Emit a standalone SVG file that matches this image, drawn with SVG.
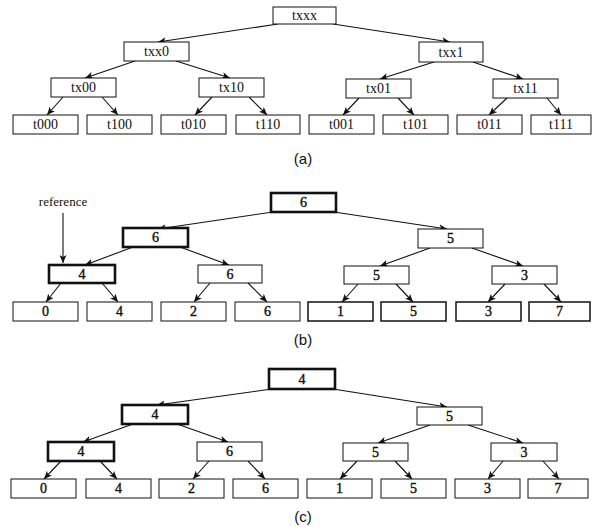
<svg xmlns="http://www.w3.org/2000/svg" width="592" height="527" viewBox="0 0 592 527">
<style>
.n{fill:#fff;stroke:#111;stroke-width:1}
.k{fill:#fff;stroke:#111;stroke-width:2.6}
.m{fill:#fff;stroke:#111;stroke-width:1.5}
.t{font-family:"Liberation Serif",serif;font-size:14px;fill:#111;text-anchor:middle}
.b{stroke:#111;stroke-width:0.4}
.c{font-family:"Liberation Sans",sans-serif;font-size:15px;fill:#111;text-anchor:middle}
.e{stroke:#111;stroke-width:1.1;fill:none;marker-end:url(#a)}
</style>
<defs>
<marker id="a" markerUnits="userSpaceOnUse" markerWidth="9" markerHeight="7" refX="8" refY="3.5" orient="auto">
<path d="M0,0 L8,3.5 L0,7 L2,3.5 z" fill="#111"/>
</marker>
</defs>
<g id="connectors">
<!-- (a) -->
<line class="e" x1="278" y1="24" x2="158" y2="42"/>
<line class="e" x1="333" y1="24" x2="450" y2="42"/>
<line class="e" x1="135" y1="61" x2="85" y2="78"/>
<line class="e" x1="176" y1="61" x2="230" y2="78"/>
<line class="e" x1="434" y1="62" x2="380" y2="79"/>
<line class="e" x1="473" y1="62" x2="523" y2="79"/>
<line class="e" x1="63" y1="97" x2="47" y2="115"/>
<line class="e" x1="102" y1="97" x2="118" y2="115"/>
<line class="e" x1="212" y1="97" x2="195" y2="115"/>
<line class="e" x1="249" y1="97" x2="267" y2="115"/>
<line class="e" x1="359" y1="98" x2="343" y2="115"/>
<line class="e" x1="398" y1="98" x2="414" y2="115"/>
<line class="e" x1="507" y1="98" x2="489" y2="115"/>
<line class="e" x1="547" y1="98" x2="561" y2="115"/>
<!-- (b) -->
<line class="e" x1="63" y1="213" x2="63" y2="263"/>
<line class="e" x1="273" y1="212" x2="158" y2="229"/>
<line class="e" x1="334" y1="212" x2="447" y2="229"/>
<line class="e" x1="133" y1="247" x2="85" y2="265"/>
<line class="e" x1="180" y1="247" x2="229" y2="265"/>
<line class="e" x1="430" y1="248" x2="380" y2="266"/>
<line class="e" x1="472" y1="248" x2="523" y2="266"/>
<line class="e" x1="61" y1="283" x2="46" y2="302"/>
<line class="e" x1="102" y1="283" x2="118" y2="302"/>
<line class="e" x1="210" y1="283" x2="194" y2="302"/>
<line class="e" x1="248" y1="283" x2="267" y2="302"/>
<line class="e" x1="358" y1="284" x2="342" y2="302"/>
<line class="e" x1="396" y1="284" x2="413" y2="302"/>
<line class="e" x1="505" y1="284" x2="488" y2="302"/>
<line class="e" x1="544" y1="284" x2="561" y2="302"/>
<!-- (c) -->
<line class="e" x1="272" y1="389" x2="157" y2="405"/>
<line class="e" x1="333" y1="389" x2="447" y2="407"/>
<line class="e" x1="133" y1="424" x2="83" y2="442"/>
<line class="e" x1="177" y1="424" x2="228" y2="442"/>
<line class="e" x1="430" y1="425" x2="378" y2="443"/>
<line class="e" x1="468" y1="425" x2="523" y2="443"/>
<line class="e" x1="61" y1="461" x2="44" y2="479"/>
<line class="e" x1="100" y1="461" x2="117" y2="479"/>
<line class="e" x1="209" y1="461" x2="193" y2="479"/>
<line class="e" x1="248" y1="461" x2="265" y2="479"/>
<line class="e" x1="357" y1="461" x2="340" y2="479"/>
<line class="e" x1="395" y1="461" x2="412" y2="479"/>
<line class="e" x1="503" y1="461" x2="488" y2="479"/>
<line class="e" x1="543" y1="461" x2="559" y2="479"/>
</g>
<!-- (a) nodes -->
<g id="a_txxx"><rect class="n" x="273" y="7" width="63" height="17"/><text class="t" x="304.5" y="20">txxx</text></g>
<g id="a_txx0"><rect class="n" x="124" y="42" width="65" height="19"/><text class="t" x="156.5" y="56">txx0</text></g>
<g id="a_txx1"><rect class="n" x="419" y="42" width="64" height="20"/><text class="t" x="451" y="57">txx1</text></g>
<g id="a_tx00"><rect class="n" x="51" y="78" width="65" height="19"/><text class="t" x="83.5" y="92">tx00</text></g>
<g id="a_tx10"><rect class="n" x="199" y="78" width="65" height="19"/><text class="t" x="231.5" y="92">tx10</text></g>
<g id="a_tx01"><rect class="n" x="346" y="79" width="65" height="19"/><text class="t" x="378.5" y="93">tx01</text></g>
<g id="a_tx11"><rect class="n" x="493" y="79" width="65" height="19"/><text class="t" x="525.5" y="93">tx11</text></g>
<g id="a_t000"><rect class="n" x="13" y="115" width="65" height="19"/><text class="t" x="45.5" y="129">t000</text></g>
<g id="a_t100"><rect class="n" x="87" y="115" width="65" height="19"/><text class="t" x="119.5" y="129">t100</text></g>
<g id="a_t010"><rect class="n" x="161" y="115" width="65" height="19"/><text class="t" x="193.5" y="129">t010</text></g>
<g id="a_t110"><rect class="n" x="236" y="115" width="64" height="19"/><text class="t" x="268" y="129">t110</text></g>
<g id="a_t001"><rect class="n" x="309" y="115" width="65" height="19"/><text class="t" x="341.5" y="129">t001</text></g>
<g id="a_t101"><rect class="n" x="383" y="115" width="65" height="19"/><text class="t" x="415.5" y="129">t101</text></g>
<g id="a_t011"><rect class="n" x="457" y="115" width="65" height="19"/><text class="t" x="489.5" y="129">t011</text></g>
<g id="a_t111"><rect class="n" x="531" y="115" width="60" height="19"/><text class="t" x="561" y="129">t111</text></g>
<text class="c" x="303" y="164">(a)</text>
<!-- (b) nodes -->
<text class="t" x="63" y="206" style="font-size:13px">reference</text>
<g id="b_root"><rect class="k" x="271" y="193" width="65" height="19"/><text class="t b" x="303.5" y="207">6</text></g>
<g id="b_l1a"><rect class="k" x="123" y="228" width="65" height="19"/><text class="t b" x="155.5" y="242">6</text></g>
<g id="b_l1b"><rect class="n" x="418" y="229" width="65" height="19"/><text class="t b" x="450.5" y="243">5</text></g>
<g id="b_l2a"><rect class="k" x="49" y="265" width="66" height="18"/><text class="t b" x="82" y="279">4</text></g>
<g id="b_l2b"><rect class="n" x="198" y="265" width="64" height="18"/><text class="t b" x="230" y="279">6</text></g>
<g id="b_l2c"><rect class="n" x="344" y="266" width="65" height="18"/><text class="t b" x="376.5" y="280">5</text></g>
<g id="b_l2d"><rect class="n" x="492" y="266" width="65" height="18"/><text class="t b" x="524.5" y="280">3</text></g>
<g id="b_l3a"><rect class="n" x="13" y="302" width="65" height="19"/><text class="t b" x="45.5" y="316">0</text></g>
<g id="b_l3b"><rect class="n" x="87" y="302" width="65" height="19"/><text class="t b" x="119.5" y="316">4</text></g>
<g id="b_l3c"><rect class="n" x="161" y="302" width="65" height="19"/><text class="t b" x="193.5" y="316">2</text></g>
<g id="b_l3d"><rect class="n" x="235" y="302" width="65" height="19"/><text class="t b" x="267.5" y="316">6</text></g>
<g id="b_l3e"><rect class="m" x="308" y="302" width="65" height="19"/><text class="t b" x="340.5" y="316">1</text></g>
<g id="b_l3f"><rect class="m" x="381" y="302" width="65" height="19"/><text class="t b" x="413.5" y="316">5</text></g>
<g id="b_l3g"><rect class="m" x="456" y="302" width="65" height="19"/><text class="t b" x="488.5" y="316">3</text></g>
<g id="b_l3h"><rect class="m" x="529" y="302" width="61" height="19"/><text class="t b" x="559.5" y="316">7</text></g>
<text class="c" x="303" y="345">(b)</text>
<!-- (c) nodes -->
<g id="c_root"><rect class="k" x="269" y="369" width="66" height="20"/><text class="t b" x="302" y="384">4</text></g>
<g id="c_l1a"><rect class="k" x="122" y="405" width="66" height="19"/><text class="t b" x="155" y="419">4</text></g>
<g id="c_l1b"><rect class="n" x="417" y="407" width="65" height="18"/><text class="t b" x="449.5" y="421">5</text></g>
<g id="c_l2a"><rect class="k" x="48" y="442" width="66" height="19"/><text class="t b" x="81" y="456">4</text></g>
<g id="c_l2b"><rect class="n" x="197" y="442" width="65" height="19"/><text class="t b" x="229.5" y="456">6</text></g>
<g id="c_l2c"><rect class="n" x="343" y="443" width="65" height="18"/><text class="t b" x="375.5" y="457">5</text></g>
<g id="c_l2d"><rect class="n" x="491" y="443" width="66" height="18"/><text class="t b" x="524" y="457">3</text></g>
<g id="c_l3a"><rect class="n" x="11" y="479" width="65" height="19"/><text class="t b" x="43.5" y="493">0</text></g>
<g id="c_l3b"><rect class="n" x="86" y="479" width="65" height="19"/><text class="t b" x="118.5" y="493">4</text></g>
<g id="c_l3c"><rect class="n" x="159" y="479" width="65" height="19"/><text class="t b" x="191.5" y="493">2</text></g>
<g id="c_l3d"><rect class="n" x="233" y="479" width="65" height="19"/><text class="t b" x="265.5" y="493">6</text></g>
<g id="c_l3e"><rect class="n" x="307" y="479" width="65" height="19"/><text class="t b" x="339.5" y="493">1</text></g>
<g id="c_l3f"><rect class="n" x="381" y="479" width="65" height="19"/><text class="t b" x="413.5" y="493">5</text></g>
<g id="c_l3g"><rect class="n" x="455" y="479" width="65" height="19"/><text class="t b" x="487.5" y="493">3</text></g>
<g id="c_l3h"><rect class="n" x="528" y="479" width="60" height="19"/><text class="t b" x="558" y="493">7</text></g>
<text class="c" x="303" y="522">(c)</text>
</svg>
